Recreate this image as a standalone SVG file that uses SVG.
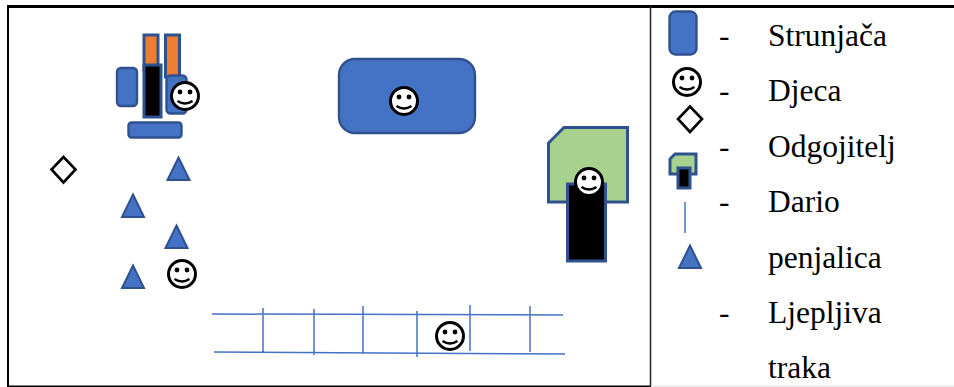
<svg xmlns="http://www.w3.org/2000/svg" width="954" height="387" viewBox="0 0 954 387">
<defs>
<g id="smiley"><circle r="13.500" fill="#fff" stroke="#000" stroke-width="3"/><circle cx="-5" cy="-4" r="2.400" fill="#000"/><circle cx="5" cy="-4" r="2.400" fill="#000"/><path d="M-7.500 5Q0 10 7.500 5" fill="none" stroke="#000" stroke-width="2.400"/></g>
<path id="tri" d="M0-11.500L11 11H-11Z" fill="#4472c4" stroke="#2f528f" stroke-width="2"/>
<path id="dia" d="M0-12.500L12 0L0 13L-12 0Z" fill="#fff" stroke="#000" stroke-width="2.600"/>
</defs>
<style>.mat{fill:#4472c4;stroke:#2f528f;stroke-width:2.400}.org{fill:#ed7d31;stroke:#2f528f;stroke-width:3}.blk{fill:#000;stroke:#2f528f;stroke-width:3}.grn{fill:#a9d18e;stroke:#2f528f;stroke-width:3}.ln{stroke:#4472c4;stroke-width:1.500;fill:none}text{font-family:"Liberation Serif",serif;font-size:31.500px;fill:#000}</style>
<rect width="954" height="387" fill="#fff"/>
<g id="frame" fill="none" stroke="#000"><path d="M7 6.500H954" stroke-width="3"/><path d="M8 6V386.500H650" stroke-width="2"/><path d="M650.500 6V387" stroke-width="1.500" stroke="#222"/><path d="M651 386H954" stroke-width="1" stroke="#ddd"/></g>
<g id="climber"><rect class="org" x="144" y="35" width="14" height="35"/><rect class="org" x="165.500" y="35" width="14" height="42"/><rect class="mat" x="117" y="68" width="20" height="38" rx="4"/><rect class="mat" x="166.500" y="75.500" width="20" height="38" rx="4"/><rect class="blk" x="144" y="65" width="17" height="52"/><rect class="mat" x="128.500" y="122.500" width="53" height="15" rx="3"/><use href="#smiley" x="185" y="96"/></g>
<g id="mat-large"><rect class="mat" x="339" y="59" width="136" height="74" rx="16"/><use href="#smiley" x="404" y="101"/></g>
<g id="station"><path class="grn" d="M564 127.500H627.500V202H548.500V143Z"/><rect class="blk" x="567.500" y="184" width="38" height="77"/><use href="#smiley" x="589" y="182"/></g>
<g id="teacher"><use href="#dia" x="63.500" y="169.500"/></g>
<g id="triangles"><use href="#tri" x="178.500" y="169"/><use href="#tri" x="133" y="206"/><use href="#tri" x="176.500" y="237"/><use href="#tri" x="133" y="277"/></g>
<use id="child" href="#smiley" x="182" y="274"/>
<g id="tape" class="connectors"><path class="ln" d="M212 314L563 315M214 352L565 354M263 308V353M314 309V355M363 306V353M417 311V357M470 305V351M530 306V352"/></g>
<use id="child-tape" href="#smiley" x="450" y="336"/>
<g id="legend"><rect class="mat" x="669.500" y="11.500" width="27" height="43" rx="6"/><use href="#smiley" x="687" y="82"/><use href="#dia" x="690" y="119"/><path class="grn" d="M675 154H696V174H670V159Z"/><rect class="blk" x="678" y="168" width="12" height="20"/><path class="ln" d="M685 202V233"/><use href="#tri" x="690" y="257"/>
<text x="768" y="46">Strunjača</text><text x="768" y="101">Djeca</text><text x="768" y="157">Odgojitelj</text><text x="768" y="212">Dario</text><text x="768" y="268">penjalica</text><text x="768" y="323">Ljepljiva</text><text x="768" y="378">traka</text>
<text x="719" y="46">-</text><text x="719" y="101">-</text><text x="719" y="157">-</text><text x="719" y="212">-</text><text x="719" y="323">-</text></g>
</svg>
